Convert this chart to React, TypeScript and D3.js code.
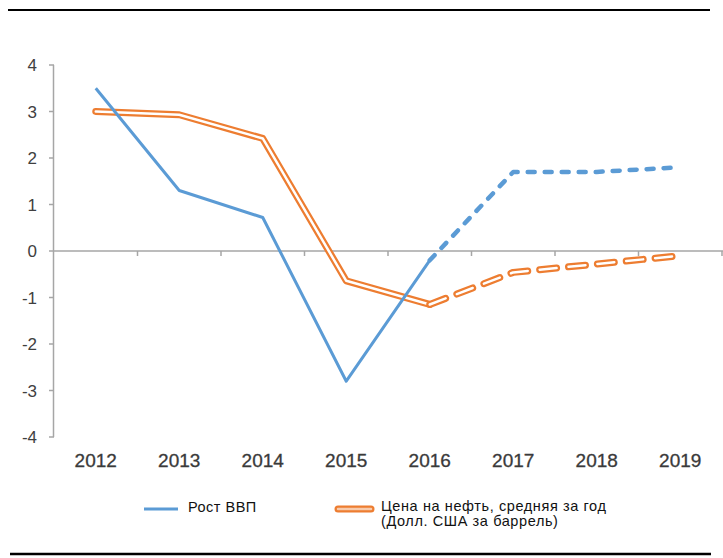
import React from "react";
import * as d3 from "d3";

const years = ["2012", "2013", "2014", "2015", "2016", "2017", "2018", "2019"];
const gdpGrowth = [3.5, 1.3, 0.72, -2.8, -0.2, 1.7, 1.7, 1.8];
const oilPrice = [3.0, 2.93, 2.42, -0.64, -1.15, -0.46, -0.28, -0.1];
const yTicks = [4, 3, 2, 1, 0, -1, -2, -3, -4];
const forecastStart = 4; // index of 2016, dashed from here
const legendLabels = ["Рост ВВП", "Цена на нефть, средняя за год", "(Долл. США за баррель)"];

const BLUE = "#5B9BD5";
const ORANGE = "#ED7D31";

export default function App() {
  const W = 723, H = 558;
  const x0 = 54, x1 = 722;
  const x = d3.scaleBand<string>().domain(years).range([x0, x1]);
  const y = d3.scaleLinear().domain([-4, 4]).range([437, 65]);
  const cx = (i: number) => (x(years[i]) as number) + x.bandwidth() / 2;

  const idx = years.map((_, i) => i);
  const solidIdx = idx.filter((i) => i <= forecastStart);
  const dashIdx = idx.filter((i) => i >= forecastStart);
  const seg = (vals: number[], ids: number[]) =>
    d3.line<number>().x((i) => cx(i)).y((i) => y(vals[i]))(ids) as string;

  const tickFont = "'Liberation Sans', Arial, sans-serif";

  return (
    <div style={{ position: "absolute", left: 0, top: 0 }}>
      <svg width={W} height={H} style={{ display: "block" }}>
        <rect x={0} y={0} width={W} height={H} fill="#fff" />
        <line x1={8} x2={710} y1={10} y2={10} stroke="#000" strokeWidth={2} />
        <line x1={10} x2={711} y1={554} y2={554} stroke="#000" strokeWidth={2.5} />

        {/* y axis */}
        <line x1={x0 - 0.5} x2={x0 - 0.5} y1={y(4)} y2={y(-4)} stroke="#a6a6a6" strokeWidth={1.5} />
        {yTicks.map((t) => (
          <g key={t}>
            <line x1={x0 - 5} x2={x0} y1={y(t)} y2={y(t)} stroke="#a6a6a6" strokeWidth={1.5} />
            <text x={37} y={y(t)} dy="0.36em" textAnchor="end" fontFamily={tickFont} fontSize={17} fill="#404040">
              {t}
            </text>
          </g>
        ))}

        {/* x axis at zero */}
        <line x1={x0} x2={W} y1={y(0)} y2={y(0)} stroke="#a6a6a6" strokeWidth={1.5} />
        {years.map((yr) => (
          <line key={"t" + yr} x1={(x(yr) as number) + x.bandwidth()} x2={(x(yr) as number) + x.bandwidth()} y1={y(0)} y2={y(0) + 5} stroke="#a6a6a6" strokeWidth={1.5} />
        ))}
        {years.map((yr, i) => (
          <text key={yr} x={cx(i)} y={467} textAnchor="middle" fontFamily={tickFont} fontSize={19} fill="#3a3a3a" stroke="#3a3a3a" strokeWidth={0.3}>
            {yr}
          </text>
        ))}

        {/* oil price: double line */}
        <path d={seg(oilPrice, solidIdx)} fill="none" stroke={ORANGE} strokeWidth={7} strokeLinejoin="round" strokeLinecap="round" />
        <path d={seg(oilPrice, solidIdx)} fill="none" stroke="#fff" strokeWidth={2.5} strokeLinejoin="round" strokeLinecap="round" />
        <path d={seg(oilPrice, dashIdx)} fill="none" stroke={ORANGE} strokeWidth={7} strokeDasharray="17 12" strokeLinecap="round" strokeLinejoin="round" />
        <path d={seg(oilPrice, dashIdx)} fill="none" stroke="#fff" strokeWidth={2.5} strokeDasharray="17 12" strokeLinecap="round" strokeLinejoin="round" />

        {/* GDP growth */}
        <path d={seg(gdpGrowth, solidIdx)} fill="none" stroke={BLUE} strokeWidth={3} strokeLinejoin="round" />
        <path d={seg(gdpGrowth, dashIdx)} fill="none" stroke={BLUE} strokeWidth={4.5} strokeDasharray="7 10" strokeLinecap="round" strokeLinejoin="round" />

        {/* legend */}
        <line x1={144} x2={178} y1={509} y2={509} stroke={BLUE} strokeWidth={3} />
        <text x={188} y={512} fontFamily={tickFont} fontSize={14.5} letterSpacing={0.5} fill="#111">{legendLabels[0]}</text>
        <line x1={338} x2={371} y1={509} y2={509} stroke={ORANGE} strokeWidth={7} strokeLinecap="round" />
        <line x1={338} x2={371} y1={509} y2={509} stroke="#fff" strokeWidth={2.5} strokeLinecap="round" strokeOpacity={0.6} />
        <text x={381} y={511} fontFamily={tickFont} fontSize={14.5} letterSpacing={0.6} fill="#111">{legendLabels[1]}</text>
        <text x={381} y={526} fontFamily={tickFont} fontSize={14.5} letterSpacing={0.6} fill="#111">{legendLabels[2]}</text>
      </svg>
    </div>
  );
}
